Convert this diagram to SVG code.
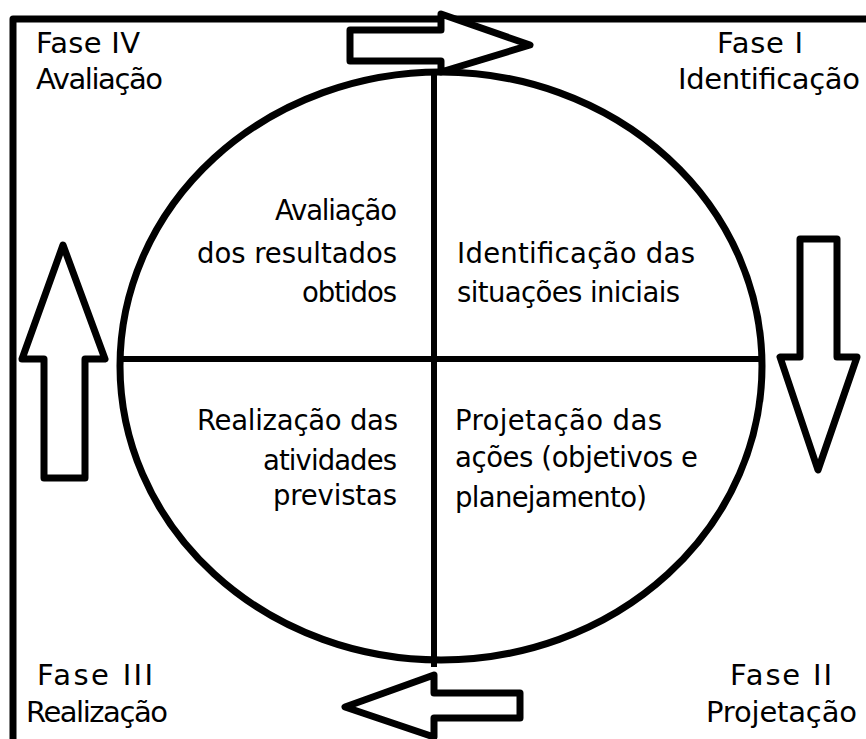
<svg xmlns="http://www.w3.org/2000/svg" width="866" height="739" viewBox="0 0 866 739">
<style>
.ln{fill:none;stroke:#000;stroke-width:7;stroke-linejoin:round;stroke-linecap:round}
.ax{fill:none;stroke:#000;stroke-width:6}
.ar{fill:#fff;stroke:#000;stroke-width:7;stroke-linejoin:round}
text{font-family:"DejaVu Sans","Noto Sans",sans-serif;font-size:27.5px;fill:#000}
.cn{font-size:29px}
</style>
<rect width="866" height="739" fill="#fff"/>
<g id="frame"><path class="ln" d="M13,745 L13,19 L870,19" style="stroke-linecap:butt"/></g>
<g id="cycle">
<ellipse class="ln" cx="441" cy="366" rx="321" ry="294"/>
</g>
<g id="connectors">
<line class="ax" x1="434" y1="70" x2="434" y2="667"/>
<line class="ax" x1="119" y1="359" x2="764" y2="359"/>
<polygon id="arrow-top" class="ar" points="350,30 441,30 441,14 530,45 441,72 441,61 350,61"/>
<polygon id="arrow-right" class="ar" points="800,239 837,239 837,357 857,357 818,470 780,357 800,357"/>
<polygon id="arrow-bottom" class="ar" points="520,693 434,693 434,675 345,707 434,737 434,718 520,718"/>
<polygon id="arrow-left" class="ar" points="63,245 105,359 85,359 85,478 44,478 44,359 22,359"/>
</g>
<g id="fase-iv">
<text class="cn" x="36" y="53" textLength="104">Fase IV</text>
<text class="cn" x="36" y="89" textLength="127">Avaliação</text>
</g>
<g id="fase-i">
<text class="cn" x="717" y="53" textLength="86">Fase I</text>
<text class="cn" x="678" y="89" textLength="182">Identificação</text>
</g>
<g id="fase-iii">
<text class="cn" x="37" y="685" textLength="116">Fase III</text>
<text class="cn" x="26" y="722" textLength="142">Realização</text>
</g>
<g id="fase-ii">
<text class="cn" x="730" y="685" textLength="102">Fase II</text>
<text class="cn" x="706" y="722" textLength="151">Projetação</text>
</g>
<g id="q-avaliacao">
<text x="275" y="220" textLength="122">Avaliação</text>
<text x="197" y="263" textLength="200">dos resultados</text>
<text x="302" y="302" textLength="95">obtidos</text>
</g>
<g id="q-identificacao">
<text x="457" y="263" textLength="238">Identificação das</text>
<text x="457" y="302" textLength="223">situações iniciais</text>
</g>
<g id="q-projetacao">
<text x="455" y="430" textLength="207">Projetação das</text>
<text x="455" y="467" textLength="243">ações (objetivos e</text>
<text x="455" y="507" textLength="192">planejamento)</text>
</g>
<g id="q-realizacao">
<text x="197" y="430" textLength="201">Realização das</text>
<text x="263" y="470" textLength="134">atividades</text>
<text x="273" y="505" textLength="124">previstas</text>
</g>
</svg>
